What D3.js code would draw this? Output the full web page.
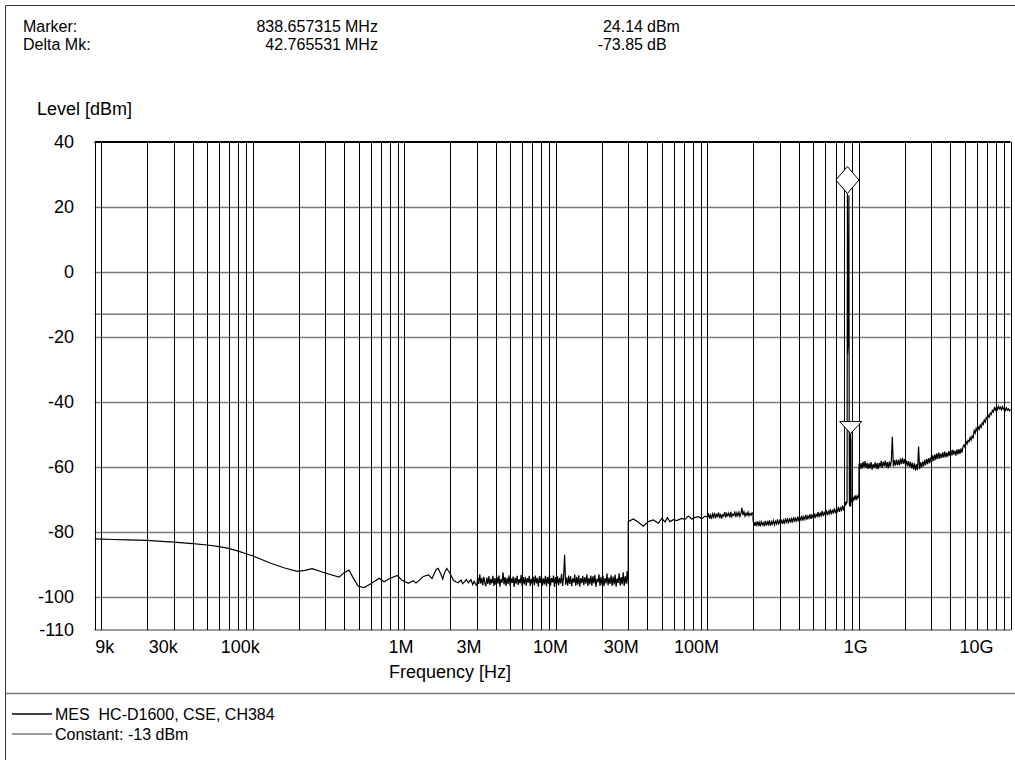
<!DOCTYPE html>
<html><head><meta charset="utf-8">
<script src="https://cdn.jsdelivr.net/npm/d3@7"></script>
<style>
html,body{margin:0;padding:0;background:#fff;}
svg{display:block;font-family:"Liberation Sans",Arial,Helvetica,sans-serif;}
text{white-space:pre;}
</style></head><body>
<svg id="c" width="1015" height="760"></svg>
<script>
// ---------------- data ----------------
const markerFreq = 838.657315e6, markerLevel = 24.14;
const deltaFreq = 42.765531e6, deltaLevel = -73.85;
const constantLevel = -13;
const legendNames = ["MES  HC-D1600, CSE, CH384", "Constant: -13 dBm"];

const yTickValues = [40, 20, 0, -20, -40, -60, -80, -100, -110];
const xTickLabels = ["9k", "30k", "100k", "1M", "3M", "10M", "30M", "100M", "1G", "10G"];
const xTickLabelAt = [10.5e3, 25.6e3, 82.4e3, 950e3, 2.67e6, 9.19e6, 27.0e6, 84.7e6, 953e6, 5.97e9];

// 9 kHz - 1 MHz (smooth part)
const lowBandPoints = [
  [9e3,-82.1],[12e3,-82.3],[15e3,-82.4],[20e3,-82.6],[25e3,-82.9],[30e3,-83.1],[40e3,-83.6],
  [50e3,-84.0],[60e3,-84.5],[70e3,-85.1],[80e3,-85.9],[90e3,-86.7],[100e3,-87.4],[131e3,-89.6],
  [160e3,-91.0],[196e3,-92.1],[220e3,-91.8],[246e3,-91.3],[300e3,-92.6],[370e3,-93.9],[400e3,-92.5],
  [430e3,-91.7],[460e3,-94.2],[496e3,-96.7],[541e3,-97.1],[600e3,-95.9],[680e3,-94.2],[733e3,-95.3],
  [800e3,-94.3],[897e3,-93.4],[960e3,-94.8]
];
// 1 MHz - 3 MHz
const band1to3MPoints = [
  [1.01e6,-95.3],[1.06e6,-95.8],[1.145e6,-95.0],[1.19e6,-95.7],[1.23e6,-95.2],[1.33e6,-93.7],
  [1.44e6,-93.2],[1.52e6,-94.3],[1.62e6,-91.5],[1.67e6,-91.2],[1.74e6,-93.0],[1.79e6,-94.5],
  [1.83e6,-92.8],[1.90e6,-91.2],[2.0e6,-92.7],[2.1e6,-94.8],[2.18e6,-95.3],[2.26e6,-95.6],
  [2.36e6,-94.8],[2.42e6,-95.9],[2.48e6,-95.4],[2.56e6,-94.6],[2.64e6,-95.6],[2.75e6,-94.7],
  [2.82e6,-96.2],[2.88e6,-95.2],[2.94e6,-96.0]
];
// 3 MHz - 30 MHz sweep (log steps)
const sweep3to30M = [3e6, 30e6];
const levels3to30M = [
  -96.5,-94.0,-96.0,-93.0,-95.9,-94.1,-96.4,-93.8,-95.6,-96.7,
  -94.0,-96.0,-93.6,-96.3,-94.4,-95.8,-93.5,-96.6,-94.2,-96.2,
  -93.8,-95.9,-93.4,-96.8,-94.5,-95.6,-92.4,-96.1,-93.9,-96.6,
  -94.1,-96.0,-93.3,-96.5,-94.3,-95.7,-93.7,-96.9,-94.0,-95.9,
  -93.5,-96.3,-94.5,-95.8,-93.2,-96.7,-93.9,-96.1,-93.8,-96.5,
  -94.2,-95.6,-93.5,-96.6,-94.4,-96.0,-93.8,-96.4,-93.4,-95.8,
  -94.1,-96.8,-93.6,-95.7,-93.3,-96.5,-94.3,-96.1,-93.5,-96.7,
  -93.9,-95.9,-93.1,-96.5,-94.2,-95.5,-93.4,-96.9,-93.9,-96.1,
  -93.6,-96.4,-94.1,-95.8,-92.9,-96.6,-93.8,-87.0,-96.2,-94.0,
  -96.5,-93.4,-96.0,-93.6,-96.7,-94.3,-95.6,-93.1,-96.5,-93.8,
  -96.2,-93.3,-96.8,-94.2,-95.7,-93.5,-96.4,-93.9,-95.9,-93.0,
  -96.6,-94.1,-96.1,-93.4,-96.5,-93.6,-95.8,-93.2,-96.9,-94.4,
  -95.5,-93.0,-96.6,-93.8,-96.3,-93.5,-96.7,-94.2,-95.8,-92.8,
  -96.4,-94.0,-96.0,-93.3,-96.6,-93.7,-96.2,-93.1,-96.8,-94.3,
  -95.7,-92.7,-96.5,-93.9,-96.1,-92.4,-96.6,-93.6,-95.9,-92.0,-96.1
];
// 30 MHz - 100 MHz
const band30to100MPoints = [
  [30e6,-76.8],[32.4e6,-76.0],[35.0e6,-77.0],[37.7e6,-78.2],[40.7e6,-76.8],[43.9e6,-76.3],
  [47.4e6,-77.3],[49.9e6,-75.8],[52.5e6,-76.9],[54.3e6,-75.6],[56.6e6,-76.8],[59.5e6,-76.2],
  [62.7e6,-76.5],[67.6e6,-75.8],[71.1e6,-76.1],[74.8e6,-75.1],[78.7e6,-76.0],[82.8e6,-75.5],
  [87.0e6,-75.3],[91.7e6,-75.9],[96.4e6,-75.1],[100e6,-75.4]
];
// 100 MHz - 200 MHz sweep
const sweep100to200M = [100e6, 200e6];
const levels100to200M = [
  -75.6,-74.3,-75.9,-74.8,-76.0,-74.5,-75.4,-74.1,-75.8,-74.6,
  -75.2,-74.0,-75.7,-74.4,-75.9,-74.7,-75.1,-73.9,-75.6,-74.3,
  -75.0,-74.2,-75.5,-73.8,-75.3,-74.5,-74.9,-73.7,-75.4,-74.1,
  -75.0,-73.9,-75.2,-74.4,-72.6,-74.8,-73.8,-75.1,-74.2,-74.9,
  -73.9,-75.0,-74.3,-74.8,-74.1,-74.6
];
// 200 MHz - 815 MHz sweep
const sweep200to815M = [200e6, 815e6];
const levels200to815M = [
  -76.4,-78.1,-76.9,-78.2,-76.7,-77.9,-77.0,-78.3,-76.8,-77.8,
  -77.1,-78.2,-76.6,-78.0,-76.9,-77.7,-76.4,-78.1,-76.8,-77.6,
  -76.5,-77.8,-76.7,-77.5,-76.1,-77.7,-76.6,-77.4,-76.2,-77.6,
  -76.4,-77.2,-75.8,-77.3,-76.1,-77.0,-75.7,-77.1,-75.9,-76.8,
  -75.4,-76.9,-75.8,-76.6,-75.2,-76.7,-75.5,-76.3,-75.0,-76.5,
  -75.3,-76.1,-74.7,-76.2,-75.1,-75.8,-74.5,-76.0,-74.8,-75.5,
  -74.3,-75.7,-74.6,-75.2,-73.9,-75.4,-74.2,-75.0,-73.6,-75.1,
  -74.0,-74.7,-73.3,-74.9,-73.7,-74.4,-73.0,-74.6,-73.4,-74.1,
  -72.7,-74.2,-73.1,-73.7,-72.3,-73.8,-72.6,-73.3,-71.8,-73.4,
  -72.1,-71.6
];
// carrier and delta-marker region
const carrierPoints = [
  [818e6,-70.8],[822e6,-71.6],[826e6,-70.5],[830e6,-71.2],[834e6,-70.4],[838.657315e6,24.14],
  [840e6,-10],[841e6,-25],[842e6,-11],[843e6,-24],[845e6,-14],[847e6,-23],[858e6,23.6],
  [862e6,-50.5],[864e6,-71.5],[866e6,-50.2],[868e6,-72],[870e6,-50.8],[872e6,-71.3],[874e6,-50.1],
  [876e6,-72.2],[878e6,-51],[880e6,-71.6],[881.422846e6,-49.71],[883e6,-72],[885e6,-51.5],
  [887e6,-70.8],[892e6,-69.6],[900e6,-70.3],[910e6,-69.5],[920e6,-70.1],[930e6,-69.2],
  [940e6,-69.9],[950e6,-69.1],[960e6,-69.8],[970e6,-69.0],[980e6,-69.6],[990e6,-68.9],[1000e6,-69.4]
];
// 1 GHz - 10 GHz sweep
const sweep1to10G = [1e9, 1e10];
const levels1to10G = [
  -59.0,-60.7,-58.8,-60.5,-58.4,-60.1,-58.2,-60.3,-58.7,-60.6,
  -58.9,-60.4,-58.5,-60.8,-59.1,-60.2,-58.6,-60.5,-58.8,-60.7,
  -58.7,-60.0,-58.1,-60.3,-58.4,-59.7,-58.0,-60.1,-58.5,-60.4,
  -58.3,-59.9,-58.2,-50.7,-59.8,-57.9,-59.6,-57.7,-59.4,-57.8,
  -59.5,-57.4,-59.1,-57.2,-59.0,-57.6,-59.3,-58.0,-59.7,-58.2,
  -60.0,-58.4,-60.4,-58.7,-60.7,-58.9,-61.1,-59.2,-60.9,-53.7,
  -60.6,-58.6,-60.2,-58.3,-59.8,-57.8,-59.4,-57.5,-59.1,-57.3,
  -58.8,-57.0,-58.5,-56.4,-58.1,-56.1,-57.8,-55.8,-57.5,-55.6,
  -57.4,-55.9,-57.2,-55.5,-57.1,-55.3,-57.0,-55.6,-56.8,-55.1,
  -56.6,-54.8,-56.4,-54.7,-56.2,-55.0,-56.5,-54.6,-56.1,-54.5,
  -56.0,-54.3,-55.6,-53.7,-53.2,-54.0,-52.0,-52.9,-51.8,-52.2,
  -50.9,-51.7,-50.5,-51.0,-48.8,-49.6,-48.1,-48.9,-47.7,-48.4,
  -47.1,-47.8,-46.4,-46.9,-45.5,-46.2,-44.8,-45.3,-44.1,-44.6,
  -43.4,-43.8,-42.6,-43.1,-41.8,-42.5,-41.5,-42.3,-41.3,-42.1,
  -41.6,-42.4,-41.4,-42.2,-41.7,-42.6,-41.8,-42.5,-42.1,-42.7,-42.3
];

// ---------------- chart ----------------
const svg = d3.select("#c");
const W = 1015, H = 760;
const plot = {left: 94.5, right: 1010.5, top: 142, bottom: 629.5};
const x = d3.scaleLog().domain([9e3, 1e10]).range([plot.left, plot.right]);
const y = d3.scaleLinear().domain([-110, 40]).range([plot.bottom, plot.top]);

function sweep(range, levels) {
  const n = levels.length, s = range[0], e = range[1];
  return levels.map((l, i) => [s * Math.pow(e / s, i / (n - 1)), l]);
}
const trace = [].concat(
  lowBandPoints, band1to3MPoints, sweep(sweep3to30M, levels3to30M), band30to100MPoints,
  sweep(sweep100to200M, levels100to200M), sweep(sweep200to815M, levels200to815M),
  carrierPoints, sweep(sweep1to10G, levels1to10G)
);

// outer frame + separator
svg.append("line").attr("x1", 5.5).attr("x2", W).attr("y1", 5.5).attr("y2", 5.5).attr("stroke", "#333").attr("stroke-width", 1);
svg.append("line").attr("x1", 5.5).attr("x2", 5.5).attr("y1", 5.5).attr("y2", H).attr("stroke", "#333").attr("stroke-width", 1);
svg.append("line").attr("x1", 5.5).attr("x2", W).attr("y1", 693.5).attr("y2", 693.5).attr("stroke", "#777").attr("stroke-width", 1.5);

// header
const hdr = svg.append("g").attr("font-size", 16).attr("fill", "#000");
hdr.append("text").attr("x", 23).attr("y", 32).text("Marker:");
hdr.append("text").attr("x", 23).attr("y", 50).text("Delta Mk:");
hdr.append("text").attr("x", 341).attr("y", 32).attr("text-anchor", "end").text((markerFreq / 1e6).toFixed(6));
hdr.append("text").attr("x", 345).attr("y", 32).text("MHz");
hdr.append("text").attr("x", 341).attr("y", 50).attr("text-anchor", "end").text((deltaFreq / 1e6).toFixed(6));
hdr.append("text").attr("x", 345).attr("y", 50).text("MHz");
hdr.append("text").attr("x", 643).attr("y", 32).attr("text-anchor", "end").text(markerLevel.toFixed(2));
hdr.append("text").attr("x", 647).attr("y", 32).text("dBm");
hdr.append("text").attr("x", 643).attr("y", 50).attr("text-anchor", "end").text(deltaLevel.toFixed(2));
hdr.append("text").attr("x", 647).attr("y", 50).text("dB");
svg.append("text").attr("x", 37).attr("y", 115).attr("font-size", 18).text("Level [dBm]");

// horizontal grid (gray)
const hGrid = svg.append("g").attr("transform", `translate(${plot.left},0)`)
  .call(d3.axisLeft(y).tickValues(yTickValues.filter(v => v !== 40)).tickSize(-(plot.right - plot.left)).tickFormat(""));
hGrid.select(".domain").remove();
hGrid.selectAll("line").attr("stroke", "#7a7a7a").attr("stroke-width", 1.4);

// constant line
svg.append("line").attr("x1", plot.left).attr("x2", plot.right)
  .attr("y1", y(constantLevel)).attr("y2", y(constantLevel))
  .attr("stroke", "#7a7a7a").attr("stroke-width", 1.4);

// vertical grid (black)
const gridFreqs = [9e3];
for (let e = 4; e <= 9; e++) for (let m = 1; m <= 9; m++) gridFreqs.push(m * Math.pow(10, e));
gridFreqs.push(1e10);
const vGrid = svg.append("g").attr("transform", `translate(0,${plot.bottom})`)
  .call(d3.axisBottom(x).tickValues(gridFreqs).tickSize(-(plot.bottom - plot.top)).tickFormat(""));
vGrid.select(".domain").remove();
vGrid.selectAll("line").attr("stroke", "#000").attr("stroke-width", 1).attr("shape-rendering", "crispEdges");

// top border at 40 dBm
svg.append("line").attr("x1", plot.left).attr("x2", plot.right).attr("y1", y(40)).attr("y2", y(40))
  .attr("stroke", "#000").attr("stroke-width", 2);

// y tick labels
const yAx = svg.append("g").attr("transform", `translate(${plot.left},0)`)
  .call(d3.axisLeft(y).tickValues(yTickValues).tickSize(0).tickPadding(20.5).tickFormat(d => String(d)));
yAx.select(".domain").remove();
yAx.selectAll("text").attr("font-size", 18).attr("font-family", "Liberation Sans, Arial, sans-serif").attr("fill", "#000");

// x tick labels
svg.append("g").selectAll("text").data(xTickLabels).join("text")
  .attr("x", (d, i) => x(xTickLabelAt[i])).attr("y", 653)
  .attr("text-anchor", "middle").attr("font-size", 18).text(d => d);
svg.append("text").attr("x", 450).attr("y", 678).attr("text-anchor", "middle").attr("font-size", 18).text("Frequency [Hz]");

// trace
const line = d3.line().x(d => x(d[0])).y(d => y(d[1]));
svg.append("path").datum(trace).attr("d", line).attr("fill", "none")
  .attr("stroke", "#000").attr("stroke-width", 1.2).attr("stroke-linejoin", "miter");

// markers
const mx = x(markerFreq), my = y(markerLevel);
svg.append("path").attr("d", `M${mx},${my} L${mx + 11.5},${my - 13.5} L${mx},${my - 27} L${mx - 11.5},${my - 13.5} Z`)
  .attr("fill", "#fff").attr("stroke", "#000").attr("stroke-width", 1);
const dx = x(markerFreq + deltaFreq), dy = y(markerLevel + deltaLevel);
svg.append("path").attr("d", `M${dx},${dy} L${dx - 11},${dy - 12} L${dx + 11},${dy - 12} Z`)
  .attr("fill", "#fff").attr("stroke", "#000").attr("stroke-width", 1);

// legend
const lg = svg.append("g").attr("font-size", 16);
const legendColors = ["#000", "#7a7a7a"];
legendNames.forEach((n, i) => {
  const ly = 714 + i * 20;
  lg.append("line").attr("x1", 12).attr("x2", 52).attr("y1", ly).attr("y2", ly)
    .attr("stroke", legendColors[i]).attr("stroke-width", 1.3);
  lg.append("text").attr("x", 55).attr("y", ly + 5.5).text(n);
});
</script>
</body></html>
